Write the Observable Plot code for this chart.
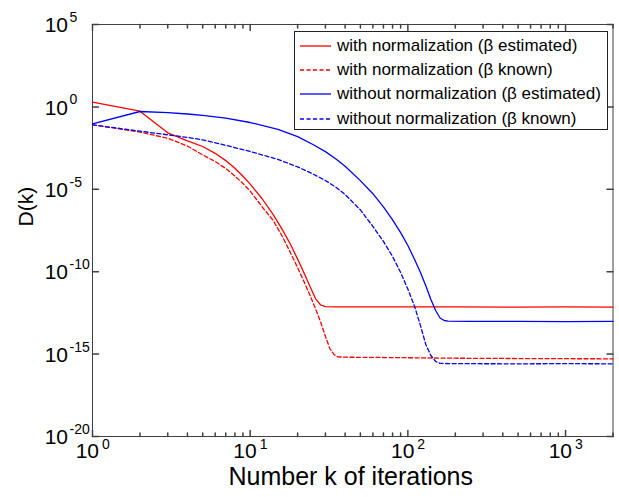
<!DOCTYPE html>
<html>
<head>
<meta charset="utf-8">
<script src="https://cdn.jsdelivr.net/npm/d3@7"></script>
<script src="https://cdn.jsdelivr.net/npm/@observablehq/plot@0.6"></script>
<style>
  html, body { margin: 0; padding: 0; background: #fff; }
  #wrap { position: relative; width: 619px; height: 497px; font-family: "Liberation Sans", Arial, sans-serif; }
  #legend { position: absolute; left: 294px; top: 31px; width: 312px; height: 95px; border: 1px solid #222; background: #fff; padding-top: 2px; }
  .row { height: 24.2px; display: flex; align-items: center; font-size: 17px; color: #000; white-space: nowrap; }
  .row svg { margin-left: 5px; margin-right: 6px; flex: none; }
</style>
</head>
<body>
<div id="wrap"><div id="chart"></div><div id="legend"></div></div>
<script>
// ---- data: iteration k and exponent of D(k) (log10 D) ----
const redSolidK   = [1,2,3,4,5,6,7,8,9,10,12,14,16,18,20,22,24,26,28,30,35,50,100,200,500,1000,2000];
const redSolidExp = [0.285,-0.261,-1.572,-2.057,-2.403,-2.816,-3.258,-3.720,-4.205,-4.684,-5.619,-6.541,-7.445,-8.337,-9.235,-10.097,-10.910,-11.644,-12.02,-12.124,-12.13,-12.13,-12.14,-12.13,-12.15,-12.14,-12.15];

const redDashK   = [1,2,3,4,5,6,7,8,9,10,12,14,16,18,20,22,24,26,28,30,32,34,36,40,60,100,200,500,1000,2000];
const redDashExp = [-1.086,-1.523,-1.905,-2.373,-2.919,-3.313,-3.738,-4.193,-4.648,-5.109,-6.104,-6.893,-7.864,-8.847,-9.763,-10.631,-11.456,-12.257,-13.064,-13.920,-14.660,-15.024,-15.164,-15.188,-15.2,-15.22,-15.25,-15.27,-15.28,-15.285];

const blueSolidK   = [1,2,3,4,5,7,10,15,20,25,30,35,40,50,60,70,80,90,100,110,120,130,140,150,160,170,180,250,500,1000,2000];
const blueSolidExp = [-1.025,-0.279,-0.346,-0.431,-0.510,-0.686,-0.947,-1.365,-1.808,-2.282,-2.712,-3.161,-3.598,-4.472,-5.267,-6.062,-6.851,-7.627,-8.410,-9.235,-10.036,-10.856,-11.687,-12.354,-12.809,-12.961,-13.004,-13.02,-13.01,-13.03,-13.02];

const blueDashK   = [1,2,3,4,5,7,10,15,20,25,30,35,40,50,60,70,80,90,100,110,120,130,140,150,160,200,500,1000,2000];
const blueDashExp = [-1.086,-1.474,-1.693,-1.851,-2.002,-2.330,-2.706,-3.186,-3.641,-4.066,-4.466,-4.879,-5.316,-6.250,-7.251,-8.161,-9.078,-10.049,-11.056,-12.069,-13.240,-14.417,-15.085,-15.449,-15.564,-15.58,-15.59,-15.58,-15.59];

const seriesNames  = ["with normalization (\u03b2 estimated)", "with normalization (\u03b2 known)", "without normalization (\u03b2 estimated)", "without normalization (\u03b2 known)"];
const seriesColors = ["#ff0000", "#ff0000", "#0000ff", "#0000ff"];
const seriesDashed = [false, true, false, true];

const xTickExps = [0, 1, 2, 3];
const yTickExps = [5, 0, -5, -10, -15, -20];
const xMinorTicks = [2,3,4,5,6,7,8,9,20,30,40,50,60,70,80,90,200,300,400,500,600,700,800,900,2000];
const xLabel = "Number k of iterations";
const yLabel = "D(k)";

// ---- build tables ----
const series = [
  [redSolidK, redSolidExp], [redDashK, redDashExp], [blueSolidK, blueSolidExp], [blueDashK, blueDashExp]
].map(([ks, es]) => ks.map((k, i) => ({k, D: Math.pow(10, es[i])})));

const xMajor = xTickExps.map(e => Math.pow(10, e));
const yMajor = yTickExps.map(e => Math.pow(10, e));
const axisColor = "#404040";
const tickShape = { draw(ctx, l) { ctx.moveTo(0, 0); ctx.lineTo(0, -l); } };
const fontFamily = '"Liberation Sans", Arial, sans-serif';

const lineMarks = series.map((data, i) => Plot.line(data, {
  x: "k", y: "D", stroke: seriesColors[i], strokeWidth: 1.3,
  strokeDasharray: seriesDashed[i] ? "4,2.5" : null
}));

const chart = Plot.plot({
  width: 619, height: 497,
  marginLeft: 92, marginRight: 6.5, marginTop: 24, marginBottom: 61,
  style: { fontFamily, background: "#fff", color: "#000", overflow: "visible" },
  x: { type: "log", domain: [1, 2000], axis: null },
  y: { type: "log", domain: [1e-20, 1e5], axis: null },
  marks: [
    Plot.frame({ stroke: axisColor }),
    // x ticks, bottom & top (inward)
    Plot.vector(xMajor, { x: d => d, frameAnchor: "bottom", anchor: "start", rotate: 0, length: 6, shape: tickShape, stroke: axisColor }),
    Plot.vector(xMinorTicks, { x: d => d, frameAnchor: "bottom", anchor: "start", rotate: 0, length: 3.5, shape: tickShape, stroke: axisColor }),
    Plot.vector(xMajor, { x: d => d, frameAnchor: "top", anchor: "start", rotate: 180, length: 6, shape: tickShape, stroke: axisColor }),
    Plot.vector(xMinorTicks, { x: d => d, frameAnchor: "top", anchor: "start", rotate: 180, length: 3.5, shape: tickShape, stroke: axisColor }),
    // y ticks, left & right (inward)
    Plot.vector(yMajor, { y: d => d, frameAnchor: "left", anchor: "start", rotate: 90, length: 6, shape: tickShape, stroke: axisColor }),
    Plot.vector(yMajor, { y: d => d, frameAnchor: "right", anchor: "start", rotate: -90, length: 6, shape: tickShape, stroke: axisColor }),
    // x tick labels 10^e
    Plot.text(xTickExps, { x: e => Math.pow(10, e), frameAnchor: "bottom", text: () => "10", textAnchor: "end", dx: 6.5, dy: 21.5, fontSize: 21, fill: "#000" }),
    Plot.text(xTickExps, { x: e => Math.pow(10, e), frameAnchor: "bottom", text: e => String(e), textAnchor: "start", dx: 9.5, dy: 12, fontSize: 14, fill: "#000" }),
    // y tick labels 10^e
    Plot.text(yTickExps, { y: e => Math.pow(10, e), frameAnchor: "left", text: () => "10", textAnchor: "end", dx: -24.5, dy: 1, fontSize: 21, fill: "#000" }),
    Plot.text(yTickExps, { y: e => Math.pow(10, e), frameAnchor: "left", text: e => String(e), textAnchor: "start", dx: -23, dy: -7, fontSize: 14, fill: "#000" }),
    // axis titles
    Plot.text([xLabel], { frameAnchor: "bottom", text: d => d, dy: 48.5, dx: -2, fontSize: 25, fill: "#000" }),
    Plot.text([yLabel], { frameAnchor: "left", text: d => d, rotate: -90, dx: -66, dy: -4, fontSize: 21, fill: "#000" }),
    ...lineMarks
  ]
});
document.getElementById("chart").appendChild(chart);

// ---- legend ----
const legend = d3.select("#legend");
seriesNames.forEach((name, i) => {
  const row = legend.append("div").attr("class", "row");
  const svg = row.append("svg").attr("width", 31).attr("height", 10);
  svg.append("line").attr("x1", 0).attr("x2", 31).attr("y1", 5).attr("y2", 5)
    .attr("stroke", seriesColors[i]).attr("stroke-width", 1.3)
    .attr("stroke-dasharray", seriesDashed[i] ? "4,2.5" : null);
  row.append("span").text(name);
});
</script>
</body>
</html>
